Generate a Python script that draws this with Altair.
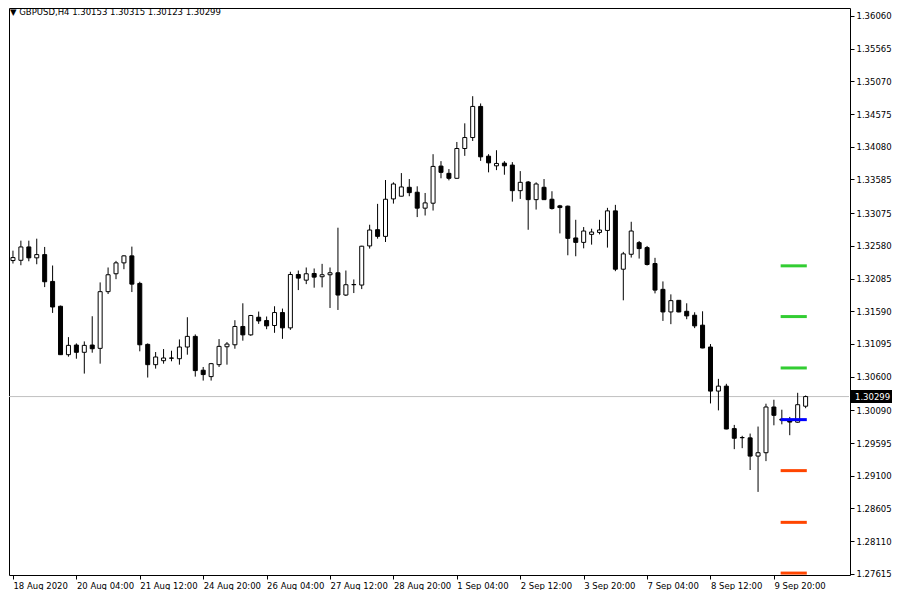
import json
import altair as alt
import numpy as np
import pandas as pd

symbol = "GBPUSD,H4"

opens = [
    1.32358, 1.32362, 1.32564, 1.32399, 1.32448, 1.32042, 1.31666, 1.30933, 1.31079, 1.30969,
    1.31079, 1.31029, 1.31887, 1.32158, 1.32323, 1.32429, 1.32012, 1.31089, 1.30782, 1.30842,
    1.30883, 1.30872, 1.31049, 1.31210, 1.30698, 1.30601, 1.30782, 1.31053, 1.31083, 1.31360,
    1.31233, 1.31500, 1.31450, 1.31375, 1.31571, 1.31339, 1.32147, 1.32061, 1.32162, 1.32113,
    1.32143, 1.32173, 1.31836, 1.31992, 1.31987, 1.32579, 1.32825, 1.32724, 1.33291, 1.33332,
    1.33467, 1.33392, 1.33151, 1.33226, 1.33788, 1.33678, 1.33603, 1.34054, 1.34220, 1.34691,
    1.33938, 1.33792, 1.33833, 1.33803, 1.33416, 1.33547, 1.33280, 1.33467, 1.33286, 1.33186,
    1.33181, 1.32700, 1.32633, 1.32754, 1.32784, 1.32814, 1.33110, 1.32227, 1.32453, 1.32629,
    1.32554, 1.32313, 1.31922, 1.31580, 1.31756, 1.31590, 1.31530, 1.31380, 1.31049, 1.30382,
    1.30457, 1.29814, 1.29679, 1.29674, 1.29398, 1.29449, 1.30141, 1.29957, 1.29935, 1.29911,
    1.30153,
]
highs = [
    1.32508, 1.32659, 1.32659, 1.32689, 1.32564, 1.32283, 1.31676, 1.31199, 1.31104, 1.31134,
    1.31515, 1.32027, 1.32253, 1.32353, 1.32438, 1.32569, 1.32037, 1.31104, 1.30973, 1.31018,
    1.30993, 1.31164, 1.31500, 1.31240, 1.30747, 1.30808, 1.31169, 1.31124, 1.31455, 1.31711,
    1.31535, 1.31586, 1.31511, 1.31666, 1.31631, 1.32188, 1.32207, 1.32253, 1.32238, 1.32308,
    1.32253, 1.32855, 1.32207, 1.32072, 1.32581, 1.32900, 1.33216, 1.33577, 1.33542, 1.33682,
    1.33592, 1.33482, 1.33381, 1.33968, 1.33863, 1.33743, 1.34153, 1.34435, 1.34846, 1.34736,
    1.33968, 1.34028, 1.33863, 1.33848, 1.33712, 1.33562, 1.33542, 1.33592, 1.33407, 1.33201,
    1.33190, 1.32975, 1.32865, 1.32840, 1.32975, 1.33156, 1.33201, 1.32489, 1.32945, 1.32654,
    1.32579, 1.32399, 1.32042, 1.31846, 1.31760, 1.31711, 1.31575, 1.31590, 1.31094, 1.30567,
    1.30492, 1.29870, 1.29705, 1.29739, 1.29845, 1.30191, 1.30251, 1.30100, 1.29991, 1.30356,
    1.30315,
]
lows = [
    1.32313, 1.32287, 1.32347, 1.32302, 1.31956, 1.31565, 1.30928, 1.30903, 1.30872, 1.30647,
    1.30963, 1.30797, 1.31851, 1.32076, 1.32227, 1.31881, 1.30984, 1.30587, 1.30722, 1.30797,
    1.30833, 1.30782, 1.30933, 1.30601, 1.30541, 1.30541, 1.30747, 1.30782, 1.31023, 1.31145,
    1.31219, 1.31399, 1.31319, 1.31264, 1.31173, 1.31309, 1.31911, 1.32001, 1.31947, 1.31952,
    1.31640, 1.31610, 1.31821, 1.31866, 1.31926, 1.32539, 1.32689, 1.32639, 1.33220, 1.33330,
    1.33332, 1.33016, 1.33040, 1.33115, 1.33603, 1.33572, 1.33600, 1.33943, 1.34168, 1.33867,
    1.33693, 1.33727, 1.33657, 1.33250, 1.33291, 1.32824, 1.33130, 1.33276, 1.33130, 1.32769,
    1.32438, 1.32423, 1.32543, 1.32599, 1.32754, 1.32554, 1.32197, 1.31756, 1.32403, 1.32388,
    1.32283, 1.31861, 1.31444, 1.31395, 1.31575, 1.31470, 1.31335, 1.31030, 1.30195, 1.30090,
    1.29804, 1.29503, 1.29518, 1.29187, 1.28856, 1.29322, 1.29864, 1.29879, 1.29714, 1.29902,
    1.30123,
]
closes = [
    1.32403, 1.32564, 1.32399, 1.32448, 1.32037, 1.31655, 1.30933, 1.31074, 1.30969, 1.31074,
    1.31023, 1.31887, 1.32143, 1.32323, 1.32429, 1.32001, 1.31083, 1.30782, 1.30898, 1.30883,
    1.30880, 1.31049, 1.31210, 1.30692, 1.30632, 1.30797, 1.31059, 1.31094, 1.31360, 1.31233,
    1.31526, 1.31444, 1.31369, 1.31571, 1.31339, 1.32147, 1.32092, 1.32158, 1.32107, 1.32143,
    1.32173, 1.31836, 1.31992, 1.31995, 1.32575, 1.32820, 1.32724, 1.33286, 1.33517, 1.33472,
    1.33386, 1.33151, 1.33231, 1.33783, 1.33693, 1.33603, 1.34054, 1.34220, 1.34691, 1.33928,
    1.33837, 1.33828, 1.33792, 1.33416, 1.33542, 1.33280, 1.33517, 1.33280, 1.33145, 1.33160,
    1.32694, 1.32633, 1.32805, 1.32790, 1.32820, 1.33110, 1.32227, 1.32459, 1.32805, 1.32539,
    1.32298, 1.31911, 1.31580, 1.31751, 1.31580, 1.31520, 1.31369, 1.31034, 1.30382, 1.30457,
    1.29808, 1.29668, 1.29676, 1.29398, 1.29449, 1.30141, 1.30015, 1.29942, 1.29913, 1.30176,
    1.30299,
]

x_tick_bars = [0, 8, 16, 24, 32, 40, 48, 56, 64, 72, 80, 88, 96]
x_tick_labels = [
    "18 Aug 2020", "20 Aug 04:00", "21 Aug 12:00", "24 Aug 20:00", "26 Aug 04:00",
    "27 Aug 12:00", "28 Aug 20:00", "1 Sep 04:00", "2 Sep 12:00", "3 Sep 20:00",
    "7 Sep 04:00", "8 Sep 12:00", "9 Sep 20:00",
]
y_tick_values = [
    1.36060, 1.35565, 1.35070, 1.34575, 1.34080, 1.33585, 1.33075, 1.32580, 1.32085,
    1.31590, 1.31095, 1.30600, 1.30090, 1.29595, 1.29100, 1.28605, 1.28110, 1.27615,
]

level_values = [1.32278, 1.31510, 1.30732, 1.29950, 1.29178, 1.28395, 1.27627]
level_colors = ["#32CD32", "#32CD32", "#32CD32", "#0000FF", "#FF4500", "#FF4500", "#FF4500"]
level_first_bar = 97
level_last_bar = 100

TOTAL_W, TOTAL_H = 884, 582
PLOT_W = 840
FONT = "DejaVu Sans"
FS = 8.5

df = pd.DataFrame({
    "i": np.arange(len(opens)),
    "open": opens, "high": highs, "low": lows, "close": closes,
})
df["fill"] = np.where(df["close"] >= df["open"], "white", "black")

lv = pd.DataFrame({"v": level_values, "c": level_colors})
lv["x0"] = level_first_bar - 0.15
lv["x1"] = level_last_bar + 0.15

last = pd.DataFrame({"p": [closes[-1]]})
title_str = "\u25BC " + symbol + "  " + " ".join(
    f"{v:.5f}" for v in (opens[-1], highs[-1], lows[-1], closes[-1]))
title_df = pd.DataFrame({"t": [title_str]})

xscale = alt.Scale(domain=[-0.5, 105.6], nice=False, zero=False, padding=0)
yscale = alt.Scale(domain=[1.27598, 1.36181], nice=False, zero=False, padding=0)

label_expr = f"{json.dumps(x_tick_labels)}[indexof({json.dumps(x_tick_bars)}, datum.value)]"

x_axis = alt.Axis(values=x_tick_bars, labelExpr=label_expr, labelAlign="left",
                  labelBaseline="top", title=None)
y_axis = alt.Axis(orient="right", values=y_tick_values, format=".5f", title=None)

X = lambda f: alt.X(f, scale=xscale, axis=x_axis)
Y = lambda f: alt.Y(f, scale=yscale, axis=y_axis)

price_line = alt.Chart(last).mark_rule(color="#C0C0C0", strokeWidth=1).encode(
    y=Y("p:Q"), x=alt.value(0), x2=alt.value(PLOT_W),
)

wicks = alt.Chart(df).mark_rule(color="black", strokeWidth=1).encode(
    x=X("i:Q"), y=Y("low:Q"), y2="high:Q",
)

bodies = alt.Chart(df).mark_bar(size=4, stroke="black", strokeWidth=1).encode(
    x=X("i:Q"), y=Y("open:Q"), y2="close:Q",
    color=alt.Color("fill:N", scale=None),
)

levels = alt.Chart(lv).mark_rule(strokeWidth=3).encode(
    x=X("x0:Q"), x2="x1:Q", y=Y("v:Q"),
    color=alt.Color("c:N", scale=None),
)

price_box = alt.Chart(last).mark_rule(color="black", strokeWidth=13).encode(
    y=Y("p:Q"), x=alt.value(PLOT_W + 1), x2=alt.value(PLOT_W + 43),
)
price_text = alt.Chart(last).mark_text(color="white", align="left", baseline="middle",
                                        font=FONT, fontSize=FS).encode(
    y=Y("p:Q"), x=alt.value(PLOT_W + 6),
    text=alt.Text("p:Q", format=".5f"),
)

title_text = alt.Chart(title_df).mark_text(align="left", baseline="top", font=FONT,
                                           fontSize=FS, color="black").encode(
    x=alt.value(1), y=alt.value(0), text="t:N",
)

chart = alt.layer(price_line, wicks, bodies, levels, price_box, price_text, title_text).properties(
    width=TOTAL_W, height=TOTAL_H,
    autosize=alt.AutoSizeParams(type="fit", contains="padding"),
    padding=0,
    background="white",
).configure_view(
    stroke="black", strokeWidth=1
).configure_axis(
    domain=False, grid=False, tickSize=4, tickColor="black", tickWidth=1,
    labelFont=FONT, labelFontSize=FS, labelColor="black",
    labelOverlap=False, labelFlush=False, labelPadding=2,
).configure_axisX(labelPadding=2)

chart.save("out.html", embed_options={"renderer": "svg", "actions": False})
